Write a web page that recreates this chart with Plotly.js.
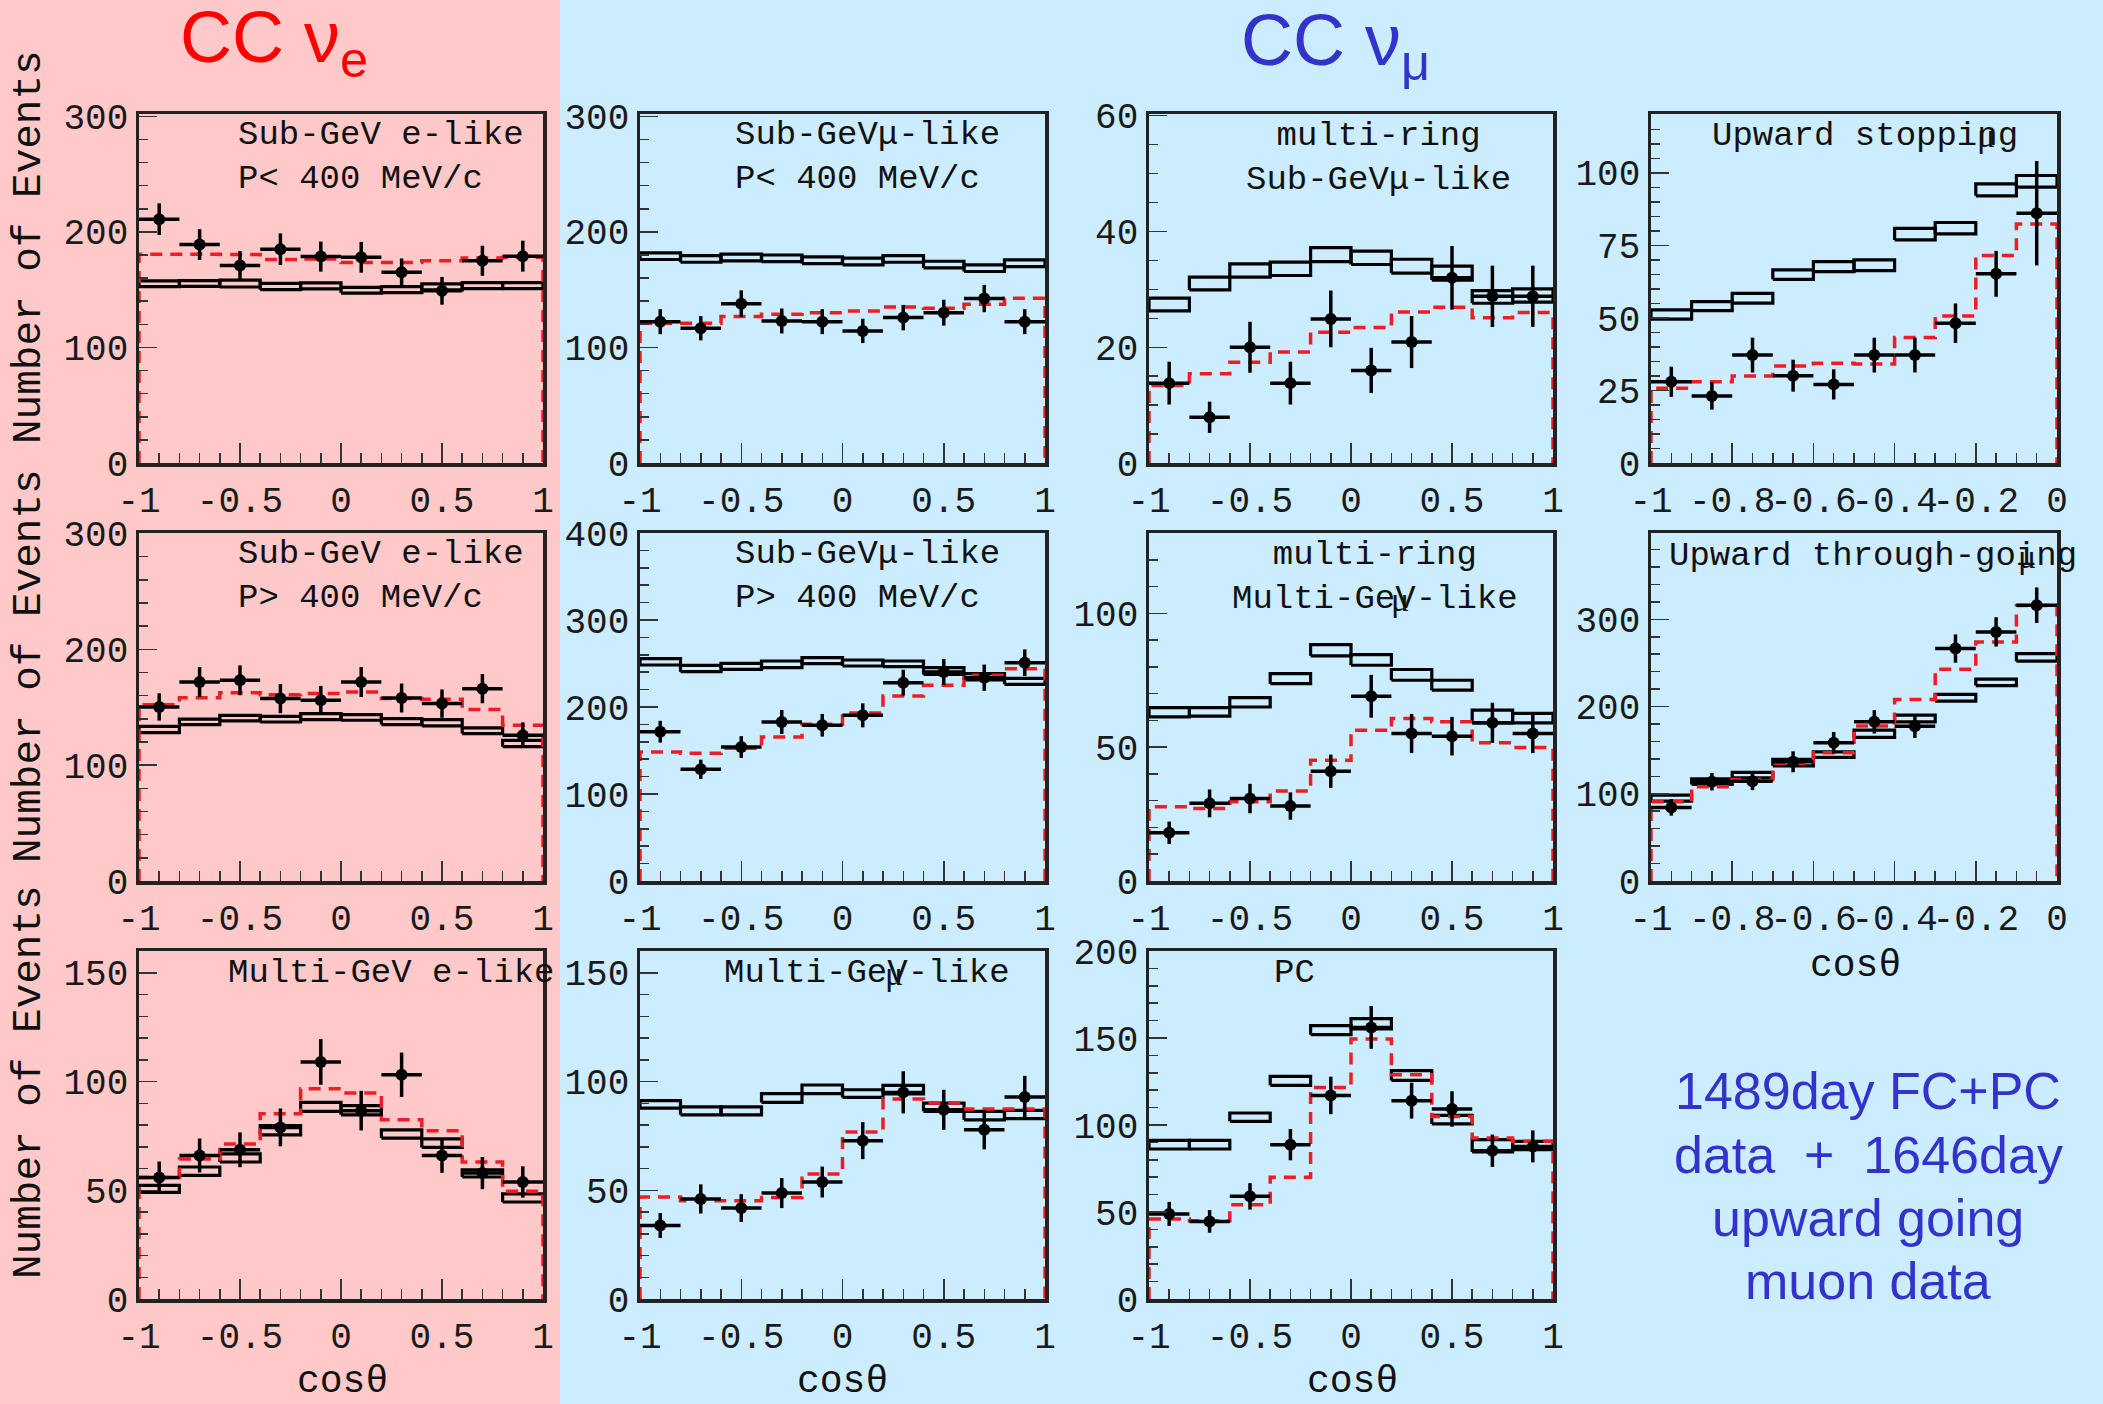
<!DOCTYPE html>
<html><head><meta charset="utf-8">
<script src="https://cdn.plot.ly/plotly-3.0.1.min.js"></script>
<style>html,body{margin:0;padding:0;background:#ccecff;} #chart{width:2103px;height:1404px;}</style>
</head><body><div id="chart"></div>
<script>
// ---------- bin edges (cos theta) ----------
const cosEdgesAll = [-1,-0.8,-0.6,-0.4,-0.2,0,0.2,0.4,0.6,0.8,1];
const cosEdgesUp  = [-1,-0.9,-0.8,-0.7,-0.6,-0.5,-0.4,-0.3,-0.2,-0.1,0];
const xTickValsAll = [-1,-0.5,0,0.5,1];
const xTickTextAll = ['-1','-0.5','0','0.5','1'];
const xTickValsUp  = [-1,-0.8,-0.6,-0.4,-0.2,0];
const xTickTextUp  = ['-1','-0.8','-0.6','-0.4','-0.2','0'];

// ---------- Sub-GeV e-like P<400 ----------
const sgeLowData = [211,189,171,185,178.6,178,165,149,175,179];
const sgeLowErr  = [13.7,13.3,12.4,13.7,13,13.3,12,12,13,13.4];
const sgeLowOsc  = [180.6,180.6,180.5,176,176.5,173.5,173.5,175,177.5,178];
const sgeLowNoLo = [152.6,152.8,152.3,150,150.6,147,147.4,149.8,150.9,150.9];
const sgeLowNoHi = [157.6,157.8,158.3,155.4,155.8,152,152.6,155,156.1,156.1];
// ---------- Sub-GeV mu-like P<400 ----------
const sgmLowData = [122.3,116.6,137.9,122.9,122.3,114.3,125.8,130.1,142.3,122.3];
const sgmLowErr  = [10.8,10.5,11.5,10.8,10.8,10.5,11,11.2,11.8,10.8];
const sgmLowOsc  = [121,121,126.7,128.7,130,131.6,135,134,137.4,142.6];
const sgmLowNoLo = [176.1,173.7,174.9,174.2,172.6,171.4,173.7,168.8,165.7,170];
const sgmLowNoHi = [181.9,179.5,180.7,180,178.4,177.2,179.5,174.6,171.5,175.8];
// ---------- multi-ring Sub-GeV mu-like ----------
const mrsData = [13.8,7.9,20,13.8,24.9,16,20.9,32,28.8,28.8];
const mrsErr  = [3.7,2.7,4.4,3.7,4.9,3.9,4.5,5.5,5.3,5.3];
const mrsOsc  = [13.4,15.4,17.4,19.2,22.6,23.4,26.1,26.9,25.1,26];
const mrsNoLo = [26.3,29.9,32.1,32.4,34.8,34.3,32.8,31.6,27.6,27.8];
const mrsNoHi = [28.5,32.1,34.4,34.7,37.2,36.6,35.2,34,29.8,30.1];
// ---------- Upward stopping mu ----------
const upsData = [28,23.1,37.2,30.1,27.1,37.2,37.2,48.2,65.2,86.1];
const upsErr  = [5.2,4.7,6,5.5,5.2,6,6,6.8,7.9,18];
const upsOsc  = [25.8,28,30,33.4,34.4,34.1,43.3,50.7,71.5,82.4];
const upsNoLo = [49.6,52.5,55.1,63.3,66,66.3,76.9,79,92.1,95.1];
const upsNoHi = [52.8,55.6,58.5,66.6,69.4,70,80.9,82.9,96.2,99.1];
// ---------- Sub-GeV e-like P>400 ----------
const sgeHighData = [150.3,171.8,173.3,157.5,156,171.8,158,153.2,166.1,125.9];
const sgeHighErr  = [11.8,12.9,12.9,12.6,12.5,12.9,12.5,12.2,12.6,11.1];
const sgeHighOsc  = [152.3,158.3,162.6,160.9,161.8,163.2,157.5,156.9,148,134.5];
const sgeHighNoLo = [128.2,135.1,138.2,137.3,139.4,138.8,135.1,133.9,127.3,116];
const sgeHighNoHi = [133.6,139.7,143.1,142.2,144.5,143.7,140.2,139.3,132.2,121.5];
// ---------- Sub-GeV mu-like P>400 ----------
const sgmHighData = [171.6,128.4,154,182.8,179,190.4,228,240.2,233.7,250.9];
const sgmHighErr  = [12.5,11.1,12.5,13.8,13,13.8,14.8,14.9,15.1,15.3];
const sgmHighOsc  = [148.3,146.7,152.5,165.5,180.1,193.1,212.6,224.9,236.4,244];
const sgmHighNoLo = [248.3,240.6,243.3,245.2,249.8,247.1,246.3,237.5,231.1,226.1];
const sgmHighNoHi = [255.6,247.9,250.2,252.9,256.7,254,252.9,245.2,238.3,233];
// ---------- multi-ring Multi-GeV mu-like ----------
const mrmData = [18,29,30.8,28,41,69,55.1,54.1,59.1,55.1];
const mrmErr  = [4.2,5.2,5.5,5.1,6.2,8,7.3,7.2,7.5,7.3];
const mrmOsc  = [27.7,27.1,29.6,33.6,45.1,56.3,60.7,59.5,51.6,49.9];
const mrmNoLo = [61.3,61.6,65,73.7,84.1,80.6,75,71.3,59.1,59.1];
const mrmNoHi = [64.8,64.8,68.5,77.5,88.3,84.6,79,75,63.8,62.6];
// ---------- Upward through-going mu ----------
const uptData = [84.4,113.8,114.5,136.7,158.4,182.5,177.5,266.5,285.6,316.2];
const uptErr  = [9.5,10,10.3,12,12.4,13.4,13.4,16.2,16.8,20.4];
const uptOsc  = [90.9,108,116.5,134.8,147,177.6,208.1,242.8,274.1,315.8];
const uptNoLo = [91.6,110.7,118.3,132.1,141.7,164.6,182.5,206.2,224.1,252];
const uptNoHi = [98.5,117.2,124.5,139.4,148.1,173,190.2,213.9,231.4,260.8];
// ---------- Multi-GeV e-like ----------
const mgeData = [55.9,66,68.6,78.9,109,86.6,103.1,66,57.9,53.8];
const mgeErr  = [7.3,7.8,8,8.7,10.5,9.1,10.2,8,7.4,7.2];
const mgeOsc  = [55.9,64.4,71.3,85.2,96.7,94.7,82.4,77.4,63,49.5];
const mgeNoLo = [49,56.8,63,75.5,86.3,84.7,74,69.7,56.1,44.6];
const mgeNoHi = [52.2,60.7,66.7,79.7,90.4,88.9,77.8,73.6,59.4,48.3];
// ---------- Multi-GeV mu-like ----------
const mgmData = [33.8,46,41.8,48.7,53.8,72.8,95,87,77.8,92.9];
const mgmErr  = [5.7,6.7,6.4,6.9,7.1,8.5,9.7,9.2,9,9.7];
const mgmOsc  = [46.9,45.2,45.2,46.7,57.5,76.8,92,90.1,87.4,87.4];
const mgmNoLo = [87.8,84.7,84.7,90.4,94.4,92.7,94.3,86.3,82.4,82.9];
const mgmNoHi = [91.2,88.3,88.3,94.4,98.4,96.2,98.2,90.1,86.3,86.7];
// ---------- PC ----------
const pcData = [48.9,44.6,59,88.7,117,156.1,114,109.2,85.2,87.7];
const pcErr  = [6.9,6.5,7.6,9,10.8,12.3,10.3,10.2,9.3,9.2];
const pcOsc  = [46,45,54.2,69.9,121.6,149.4,128.9,104.9,92.5,90.6];
const pcNoLo = [86.2,86.2,102.1,122.8,151.9,155.3,125.6,100.6,84.5,85.8];
const pcNoHi = [91.2,91.2,106.9,127.9,157.1,161.1,131.2,105.5,91.6,90.6];

// ---------- text ----------
const titleE = 'CC ν<sub>e</sub>';
const titleMu = 'CC ν<sub>μ</sub>';
const yTitle = 'Number of Events';
const xTitle = 'cosθ';
const noteLines = ['1489day FC+PC', 'data \u00a0+\u00a0 1646day', 'upward going', 'muon data'];

// ---------- geometry (pixels) ----------
const W = 2103, H = 1404;
const colPx = [[139,543],[640,1045],[1149,1553],[1651,2057]];
const rowPx = [[114,463],[533,881],[951,1299]];
const fx = p => p / W;
const fy = p => 1 - p / H;

const panels = [
  {r:0,c:0,e:cosEdgesAll,d:sgeLowData,er:sgeLowErr,o:sgeLowOsc,lo:sgeLowNoLo,hi:sgeLowNoHi,yr:[0,302],yd:100,ym:20},
  {r:0,c:1,e:cosEdgesAll,d:sgmLowData,er:sgmLowErr,o:sgmLowOsc,lo:sgmLowNoLo,hi:sgmLowNoHi,yr:[0,302],yd:100,ym:20},
  {r:0,c:2,e:cosEdgesAll,d:mrsData,er:mrsErr,o:mrsOsc,lo:mrsNoLo,hi:mrsNoHi,yr:[0,60.3],yd:20,ym:5},
  {r:0,c:3,e:cosEdgesUp,d:upsData,er:upsErr,o:upsOsc,lo:upsNoLo,hi:upsNoHi,yr:[0,120.3],yd:25,ym:5},
  {r:1,c:0,e:cosEdgesAll,d:sgeHighData,er:sgeHighErr,o:sgeHighOsc,lo:sgeHighNoLo,hi:sgeHighNoHi,yr:[0,300.5],yd:100,ym:20},
  {r:1,c:1,e:cosEdgesAll,d:sgmHighData,er:sgmHighErr,o:sgmHighOsc,lo:sgmHighNoLo,hi:sgmHighNoHi,yr:[0,400],yd:100,ym:20},
  {r:1,c:2,e:cosEdgesAll,d:mrmData,er:mrmErr,o:mrmOsc,lo:mrmNoLo,hi:mrmNoHi,yr:[0,130],yd:50,ym:10},
  {r:1,c:3,e:cosEdgesUp,d:uptData,er:uptErr,o:uptOsc,lo:uptNoLo,hi:uptNoHi,yr:[0,399],yd:100,ym:20},
  {r:2,c:0,e:cosEdgesAll,d:mgeData,er:mgeErr,o:mgeOsc,lo:mgeNoLo,hi:mgeNoHi,yr:[0,160],yd:50,ym:10},
  {r:2,c:1,e:cosEdgesAll,d:mgmData,er:mgmErr,o:mgmOsc,lo:mgmNoLo,hi:mgmNoHi,yr:[0,160],yd:50,ym:10},
  {r:2,c:2,e:cosEdgesAll,d:pcData,er:pcErr,o:pcOsc,lo:pcNoLo,hi:pcNoHi,yr:[0,200],yd:50,ym:10}
];

const tickFont = {family:'Liberation Mono', size:36, color:'#1a1a1a'};
const frameColor = '#222';
const traces = [];
const layout = {
  width:W, height:H, margin:{l:0,r:0,t:0,b:0},
  paper_bgcolor:'#ccecff', plot_bgcolor:'rgba(0,0,0,0)', showlegend:false,
  shapes:[{type:'rect', xref:'paper', yref:'paper', x0:0, x1:fx(560), y0:0, y1:1,
           fillcolor:'#ffc9c9', line:{width:0}, layer:'below'}],
  annotations:[]
};

panels.forEach((p, i) => {
  const n = i + 1;
  const xa = 'x' + (n === 1 ? '' : n), ya = 'y' + (n === 1 ? '' : n);
  const up = p.e === cosEdgesUp;
  const edges = p.e;
  const centers = [], halfw = [];
  for (let k = 0; k < edges.length - 1; k++) {
    centers.push((edges[k] + edges[k+1]) / 2);
    halfw.push((edges[k+1] - edges[k]) / 2);
  }
  // no-oscillation MC boxes
  const bx = [], by = [];
  for (let k = 0; k < centers.length; k++) {
    const x0 = edges[k], x1 = edges[k+1];
    bx.push(x0, x1, x1, x0, x0, null);
    by.push(p.lo[k], p.lo[k], p.hi[k], p.hi[k], p.lo[k], null);
  }
  traces.push({type:'scatter', mode:'lines', x:bx, y:by, xaxis:xa, yaxis:ya,
    line:{color:'#000', width:3.2}, connectgaps:false, hoverinfo:'skip'});
  // best-fit oscillation (red dashed step)
  const ox = [edges[0]], oy = [0];
  for (let k = 0; k < centers.length; k++) { ox.push(edges[k]); oy.push(p.o[k]); }
  ox.push(edges[edges.length-1]); oy.push(p.o[p.o.length-1]);
  ox.push(edges[edges.length-1]); oy.push(0);
  traces.push({type:'scatter', mode:'lines', x:ox, y:oy, xaxis:xa, yaxis:ya,
    line:{color:'#ee1c25', width:3.5, dash:'12px,8px', shape:'hv'}, hoverinfo:'skip'});
  // data
  traces.push({type:'scatter', mode:'markers', x:centers, y:p.d, xaxis:xa, yaxis:ya,
    marker:{color:'#000', size:12},
    error_x:{type:'data', array:halfw, thickness:3.5, width:0, color:'#000'},
    error_y:{type:'data', array:p.er, thickness:3.5, width:0, color:'#000'}});

  const cx = colPx[p.c], ry = rowPx[p.r];
  layout['xaxis' + (n === 1 ? '' : n)] = {
    domain:[fx(cx[0]), fx(cx[1])], anchor:ya,
    range: up ? [-1, 0] : [-1, 1],
    tickmode:'array', tickvals: up ? xTickValsUp : xTickValsAll, ticktext: up ? xTickTextUp : xTickTextAll,
    tickangle:0,
    ticks:'inside', ticklen:20, tickwidth:1.5, tickcolor:'#333',
    minor:{ticks:'inside', tick0:-1, dtick: up ? 0.05 : 0.1, ticklen:10, tickwidth:1.5, tickcolor:'#333'},
    showline:true, mirror:true, linecolor:frameColor, linewidth:3.5,
    showgrid:false, zeroline:false, tickfont:tickFont, ticklabelstandoff:2, fixedrange:true
  };
  layout['yaxis' + (n === 1 ? '' : n)] = {
    domain:[fy(ry[1]), fy(ry[0])], anchor:xa,
    range:p.yr, tickmode:'linear', tick0:0, dtick:p.yd,
    ticks:'inside', ticklen:18, tickwidth:1.5, tickcolor:'#333',
    minor:{ticks:'inside', tick0:0, dtick:p.ym, ticklen:9, tickwidth:1.5, tickcolor:'#333'},
    showline:true, mirror:true, linecolor:frameColor, linewidth:3.5,
    showgrid:false, zeroline:false, tickfont:tickFont, ticklabelstandoff:0, fixedrange:true
  };
});

// ---------- annotations ----------
function ann(text, xpx, ypx, opts) {
  layout.annotations.push(Object.assign({
    text:text, x:fx(xpx), y:fy(ypx), xref:'paper', yref:'paper', showarrow:false,
    xanchor:'center', yanchor:'middle', align:'left',
    font:{family:'Liberation Mono', size:34, color:'#111'}
  }, opts || {}));
}
const sans = (size, color) => ({family:'Liberation Sans, Arial, sans-serif', size:size, color:color});
const muFont = {family:'Liberation Serif', size:34, color:'#111'};

ann(titleE, 274, 42, {font:sans(72,'#ff0000')});
ann(titleMu, 1335, 46, {font:sans(72,'#3333cc')});
[1091, 1155, 1218, 1281].forEach((y, k) => ann(noteLines[k], 1868, y, {font:sans(52,'#3333cc')}));

[247, 666, 1082].forEach(y => ann(yTitle, 29, y, {textangle:-90, font:{family:'Liberation Mono', size:41, color:'#111'}}));
[[342,1381],[842,1381],[1352,1381],[1855,965]].forEach(q => ann(xTitle, q[0], q[1], {font:{family:'Liberation Mono', size:38, color:'#111'}}));

// panel labels
ann('Sub-GeV e-like<br>P&lt; 400 MeV/c', 236, 157, {xanchor:'left'});
ann('Sub-GeVμ-like<br>P&lt; 400 MeV/c', 733, 157, {xanchor:'left'});
ann('multi-ring<br>Sub-GeVμ-like', 1378, 158, {align:'center'});
ann('Upward stopping', 1710, 136, {xanchor:'left'});
ann('μ', 1986, 136, {font:muFont});
ann('Sub-GeV e-like<br>P&gt; 400 MeV/c', 236, 576, {xanchor:'left'});
ann('Sub-GeVμ-like<br>P&gt; 400 MeV/c', 733, 576, {xanchor:'left'});
ann('multi-ring<br>Multi-GeV-like', 1375, 577, {align:'center'});
ann('μ', 1400, 599, {font:muFont});
ann('Upward through-going', 1667, 556, {xanchor:'left'});
ann('μ', 2027, 556, {font:muFont});
ann('Multi-GeV e-like', 226, 973, {xanchor:'left'});
ann('Multi-GeV-like', 722, 973, {xanchor:'left'});
ann('μ', 894, 973, {font:muFont});
ann('PC', 1294, 973);

Plotly.newPlot('chart', traces, layout, {displayModeBar:false, staticPlot:true});
</script></body></html>
